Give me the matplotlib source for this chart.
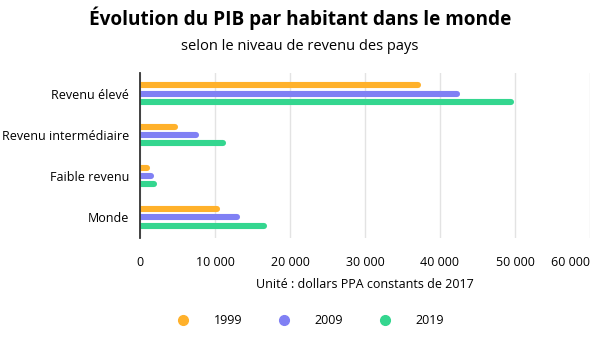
import matplotlib.pyplot as plt
import numpy as np

plt.rcParams['font.family'] = ['Open Sans', 'DejaVu Sans']

# donnees
categories = ['Revenu élevé', 'Revenu intermédiaire', 'Faible revenu', 'Monde']
annees = ['1999', '2009', '2019']
v1999 = [37000, 4600, 900, 10200]
v2009 = [42200, 7400, 1400, 12900]
v2019 = [49400, 11100, 1900, 16500]
couleurs = ['#FFB12B', '#8080F4', '#34D68F']
ticks = [0, 10000, 20000, 30000, 40000, 50000, 60000]
tick_labels = ['0', '10 000', '20 000', '30 000', '40 000', '50 000', '60 000']

fig = plt.figure(figsize=(6, 3.5), dpi=100)
ax = fig.add_axes([140/600, 1-238/350, 450/600, 165/350])

series = [v1999, v2009, v2019]
decal = [-0.2, 0.0, 0.2]
y = np.arange(len(categories))
for s, d, c in zip(series, decal, couleurs):
    ax.hlines(y + d, 0, s, color=c, linewidth=4.4, capstyle='round')
for line in ax.collections:
    line.set_capstyle('round')

ax.set_ylim(len(categories) - 0.5, -0.5)
ax.set_xlim(0, 60000)
ax.set_yticks(y)
ax.set_yticklabels(categories, fontsize=9)
ax.set_xticks(ticks)
ax.set_xticklabels(tick_labels, fontsize=9)
ax.get_xticklabels()[-1].set_ha('right')
ax.get_xticklabels()[-1].set_x(60000)
ax.tick_params(axis='both', length=0, pad=8)
ax.tick_params(axis='x', pad=13)
ax.grid(axis='x', color='#e3e3e3', linewidth=1)
ax.set_axisbelow(True)
for sp in ['top', 'right', 'bottom']:
    ax.spines[sp].set_visible(False)
ax.spines['left'].set_color('#333333')
ax.spines['left'].set_linewidth(1.3)
ax.spines['left'].set_zorder(5)

fig.text(0.5, 1-18/350, 'Évolution du PIB par habitant dans le monde', ha='center', va='center',
         fontsize=13.7, fontweight='bold')
fig.text(0.5, 1-47/350, 'selon le niveau de revenu des pays', ha='center', va='center', fontsize=10.5)
fig.text(365/600, 1-284/350, 'Unité : dollars PPA constants de 2017', ha='center', va='center', fontsize=9)

mx = [183, 284, 385]
for a, c, x in zip(annees, couleurs, mx):
    fig.add_artist(plt.Line2D([x/600], [1-320/350], marker='o', color=c, markersize=7, linestyle='none'))
    fig.text((x+45)/600, 1-320/350, a, ha='center', va='center', fontsize=9)

fig.savefig('out.png', dpi=100)
